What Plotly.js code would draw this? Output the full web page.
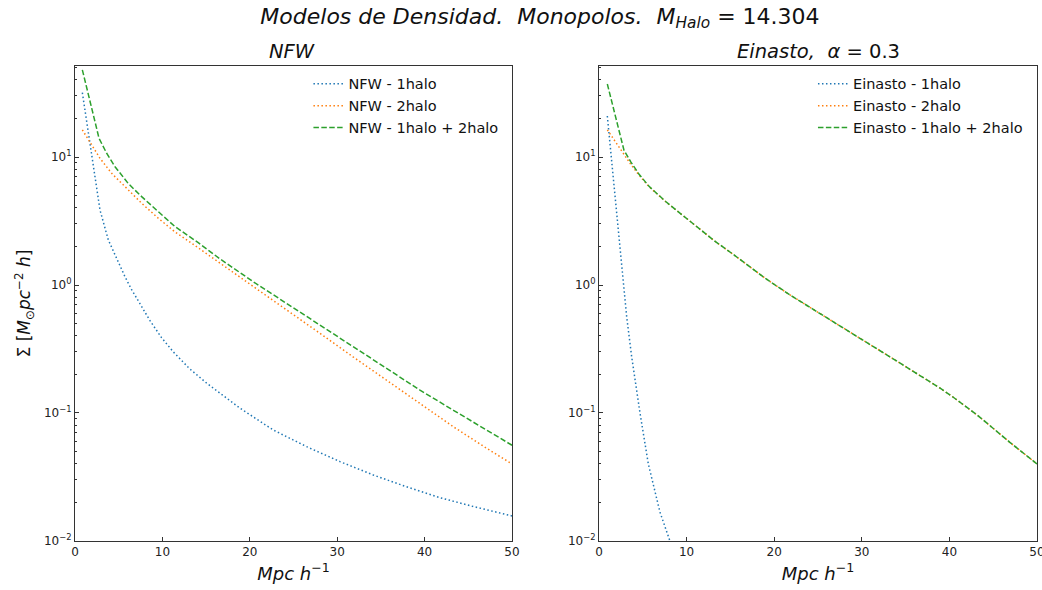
<!DOCTYPE html>
<html>
<head>
<meta charset="utf-8">
<script src="https://cdn.plot.ly/plotly-3.0.1.min.js"></script>
<style>html,body{margin:0;padding:0;background:#fff;}#chart{width:1042px;height:590px;}</style>
</head>
<body>
<div id="chart"></div>
<script>
// ---- NFW panel data ----
const nfw1haloX = [0.84, 2.86, 3.81, 4.96, 5.72, 6.48, 7.5, 8.6, 9.9, 11.25, 13.1, 15.07, 18.88, 22.69, 26.5, 30.32, 34.13, 37.94, 41.76, 45.57, 50];
const nfw1halo  = [31.8, 3.85, 2.25, 1.48, 1.16, 0.92, 0.695, 0.524, 0.388, 0.30, 0.222, 0.171, 0.109, 0.0736, 0.0546, 0.0417, 0.0328, 0.0265, 0.0218, 0.0186, 0.0157];
const nfw2haloX = [0.84, 2.86, 4.2, 5.72, 7.63, 9.53, 11.44, 13.35, 15.26, 16.59, 20.4, 24.2, 28.03, 31.8, 35.6, 39.47, 43.3, 47.1, 50];
const nfw2halo  = [16.3, 9.77, 7.45, 5.86, 4.35, 3.32, 2.6, 2.12, 1.72, 1.48, 0.97, 0.638, 0.419, 0.275, 0.181, 0.119, 0.078, 0.053, 0.040];
const nfwSumX   = [0.84, 2.75, 3.62, 4.58, 6.1, 7.63, 9.53, 11.44, 14.1, 16.59, 20.4, 24.2, 28.03, 31.8, 35.6, 39.47, 43.3, 47.1, 50];
const nfwSum    = [48, 14.0, 10.7, 8.4, 6.2, 4.9, 3.74, 2.86, 2.14, 1.60, 1.06, 0.72, 0.487, 0.33, 0.223, 0.151, 0.105, 0.0736, 0.056];

// ---- Einasto panel data ----
const ein1haloX = [0.95, 2.78, 3.16, 3.73, 4.3, 4.68, 5.63, 6.2, 6.96, 7.99, 9.0];
const ein1halo  = [20.9, 1.09, 0.565, 0.275, 0.145, 0.1, 0.04, 0.027, 0.0168, 0.0105, 0.0065];
const ein2haloX = [0.95, 2.85, 3.61, 4.57, 5.71, 7.61, 9.51, 11.4, 13.3, 15.2, 16.5, 19.0, 21.8, 24.66, 27.5, 30.37, 33.2, 36.08, 38.9, 40.3, 41.79, 43.2, 44.6, 46.9, 50];
const ein2halo  = [16.3, 10.4, 8.8, 7.23, 5.86, 4.48, 3.52, 2.77, 2.18, 1.76, 1.51, 1.125, 0.836, 0.630, 0.479, 0.362, 0.275, 0.208, 0.157, 0.135, 0.114, 0.096, 0.080, 0.059, 0.040];
const einSumX   = [0.95, 2.85, 3.61, 4.57, 5.71, 7.61, 9.51, 11.4, 13.3, 15.2, 16.5, 19.0, 21.8, 24.66, 27.5, 30.37, 33.2, 36.08, 38.9, 40.3, 41.79, 43.2, 44.6, 46.9, 50];
const einSum    = [37.2, 11.3, 9.2, 7.34, 5.9, 4.49, 3.52, 2.77, 2.18, 1.76, 1.51, 1.125, 0.836, 0.630, 0.479, 0.362, 0.275, 0.208, 0.157, 0.135, 0.114, 0.096, 0.080, 0.059, 0.040];

// ---- ticks ----
const xTickVals = [0, 10, 20, 30, 40, 50];
const yTickVals = [0.01, 0.1, 1, 10];
const yTickText = ['10<sup>−2</sup>', '10<sup>−1</sup>', '10<sup>0</sup>', '10<sup>1</sup>'];
const yMinorVals = [];
yTickVals.forEach(d => { for (let k = 2; k <= 9; k++) yMinorVals.push(d * k); });

const C1 = '#1f77b4', C2 = '#ff7f0e', C3 = '#2ca02c';
const LW = 1.5;
const DOT = '1.5px,2.5px';
const DASH = '5.5px,2.4px';

const traces = [
  {x: nfw1haloX, y: nfw1halo, name: 'NFW - 1halo', mode: 'lines', line: {color: C1, dash: DOT, width: LW}, xaxis: 'x', yaxis: 'y', legend: 'legend'},
  {x: nfw2haloX, y: nfw2halo, name: 'NFW - 2halo', mode: 'lines', line: {color: C2, dash: DOT, width: LW}, xaxis: 'x', yaxis: 'y', legend: 'legend'},
  {x: nfwSumX, y: nfwSum, name: 'NFW - 1halo + 2halo', mode: 'lines', line: {color: C3, dash: DASH, width: LW}, xaxis: 'x', yaxis: 'y', legend: 'legend'},
  {x: ein1haloX, y: ein1halo, name: 'Einasto - 1halo', mode: 'lines', line: {color: C1, dash: DOT, width: LW}, xaxis: 'x2', yaxis: 'y2', legend: 'legend2'},
  {x: ein2haloX, y: ein2halo, name: 'Einasto - 2halo', mode: 'lines', line: {color: C2, dash: DOT, width: LW}, xaxis: 'x2', yaxis: 'y2', legend: 'legend2'},
  {x: einSumX, y: einSum, name: 'Einasto - 1halo + 2halo', mode: 'lines', line: {color: C3, dash: DASH, width: LW}, xaxis: 'x2', yaxis: 'y2', legend: 'legend2'}
];

const FONT = 'DejaVu Sans, sans-serif';
const xBase = {
  range: [0, 50], tickmode: 'array', tickvals: xTickVals,
  ticks: 'inside', ticklen: 4, tickcolor: '#333', showgrid: false, zeroline: false,
  showline: true, mirror: true, linecolor: '#333', linewidth: 1,
  tickfont: {family: FONT, size: 12, color: '#222'}, ticklabeloverflow: 'allow',
  title: {text: '<i>Mpc h</i><sup>−1</sup>', font: {family: FONT, size: 18, color: '#111'}, standoff: 8},
  automargin: false
};
const yBase = {
  type: 'log', range: [-2, 1.711], tickmode: 'array', tickvals: yTickVals, ticktext: yTickText,
  ticks: 'inside', ticklen: 4, tickcolor: '#333', showgrid: false, zeroline: false,
  showline: true, mirror: true, linecolor: '#333', linewidth: 1,
  tickfont: {family: FONT, size: 12, color: '#222'}, ticklabeloverflow: 'allow',
  minor: {tickmode: 'array', tickvals: yMinorVals, ticks: 'inside', ticklen: 2, tickcolor: '#333', showgrid: false},
  automargin: false,
  domain: [0.08305, 0.88814]
};

const legendBase = {
  bgcolor: 'rgba(0,0,0,0)', borderwidth: 0, xanchor: 'left', yanchor: 'top',
  font: {family: FONT, size: 14.5, color: '#111'}, tracegroupgap: 0, itemwidth: 30
};

const layout = {
  width: 1042, height: 590,
  margin: {l: 0, r: 0, t: 0, b: 0},
  paper_bgcolor: '#fff', plot_bgcolor: '#fff',
  showlegend: true,
  title: {text: '<i>Modelos de Densidad.  Monopolos.  M<sub>Halo</sub></i> = 14.304', font: {family: FONT, size: 22, color: '#111'}, x: 0.5182, xanchor: 'center', y: 0.973, yanchor: 'middle'},
  xaxis: Object.assign({}, xBase, {domain: [0.07198, 0.49136], anchor: 'y'}),
  yaxis: Object.assign({}, yBase, {anchor: 'x',
    title: {text: 'Σ [<i>M</i><sub>⊙</sub><i>pc</i><sup>−2</sup> <i>h</i>]', font: {family: FONT, size: 17, color: '#111'}, standoff: 8}}),
  xaxis2: Object.assign({}, xBase, {domain: [0.57486, 0.9952], anchor: 'y2'}),
  yaxis2: Object.assign({}, yBase, {anchor: 'x2'}),
  legend: Object.assign({}, legendBase, {x: 0.296, y: 0.885}),
  legend2: Object.assign({}, legendBase, {x: 0.7802, y: 0.885}),
  annotations: [
    {text: '<i>NFW</i>', xref: 'paper', yref: 'paper', x: 0.2805, y: 0.912, xanchor: 'center', yanchor: 'middle', showarrow: false, font: {family: FONT, size: 19.5, color: '#111'}},
    {text: '<i>Einasto,\u00a0\u00a0α</i> = 0.3', xref: 'paper', yref: 'paper', x: 0.7855, y: 0.912, xanchor: 'center', yanchor: 'middle', showarrow: false, font: {family: FONT, size: 19.5, color: '#111'}}
  ]
};

Plotly.newPlot('chart', traces, layout, {displayModeBar: false, staticPlot: true});
</script>
</body>
</html>
